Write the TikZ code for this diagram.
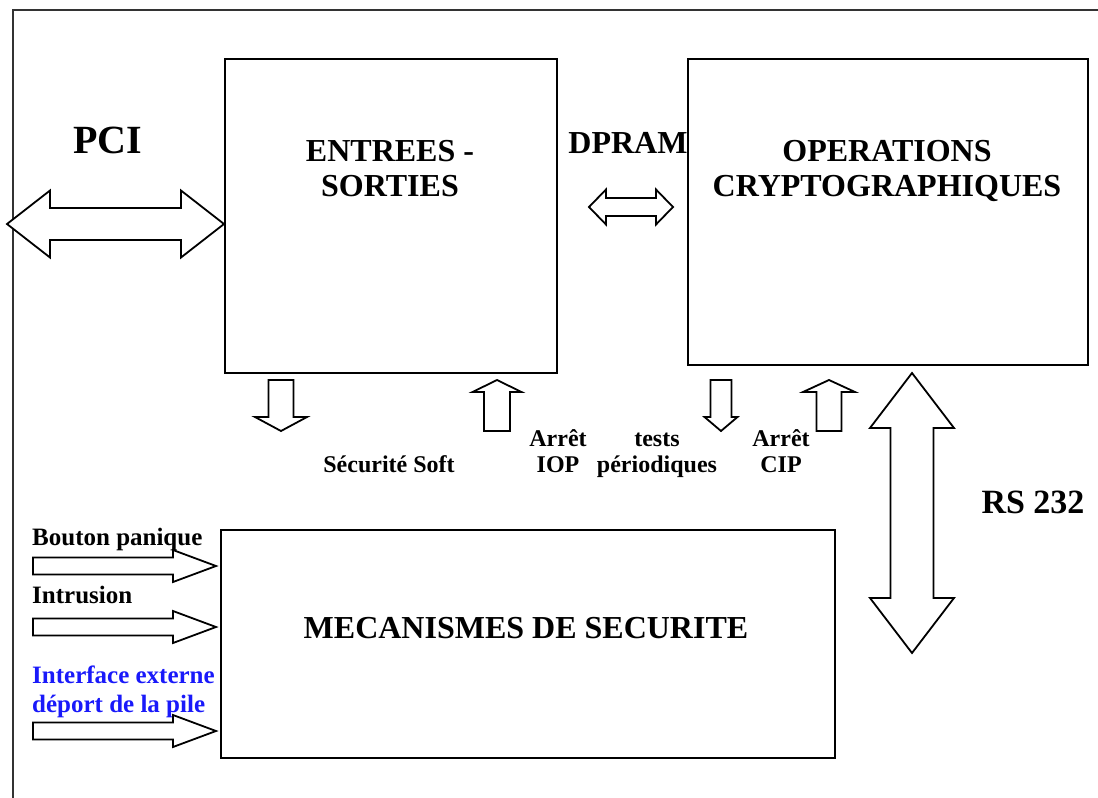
\documentclass[tikz,border=0pt]{standalone}
\usepackage{fontspec}
\setmainfont{Liberation Serif}
\usetikzlibrary{calc}
\definecolor{linkblue}{RGB}{25,25,250}

% single block arrow: tail, tip, half shaft width, half head width, head length
\newcommand{\blockarrow}[5]{%
  \coordinate (ba-base) at ($(#2)!#5!(#1)$);
  \draw[blockarr] ($(#1)!#3!90:(#2)$) -- ($(ba-base)!#3!90:(#2)$)
    -- ($(ba-base)!#4!90:(#2)$) -- (#2)
    -- ($(ba-base)!#4!-90:(#2)$) -- ($(ba-base)!#3!-90:(#2)$)
    -- ($(#1)!#3!-90:(#2)$) -- cycle;}

% double block arrow: end, end, half shaft width, half head width, head length
\newcommand{\doublearrow}[5]{%
  \coordinate (da-a) at ($(#1)!#5!(#2)$);
  \coordinate (da-b) at ($(#2)!#5!(#1)$);
  \draw[blockarr] (#1) -- ($(da-a)!#4!90:(#2)$) -- ($(da-a)!#3!90:(#2)$)
    -- ($(da-b)!#3!90:(#2)$) -- ($(da-b)!#4!90:(#2)$) -- (#2)
    -- ($(da-b)!#4!-90:(#2)$) -- ($(da-b)!#3!-90:(#2)$)
    -- ($(da-a)!#3!-90:(#2)$) -- ($(da-a)!#4!-90:(#2)$) -- cycle;}

\begin{document}
\begin{tikzpicture}[x=1pt,y=-1pt,
  box/.style={draw=black, line width=1.8pt, inner sep=0pt, anchor=north west},
  blockarr/.style={draw=black, fill=white, line width=1.8pt, line join=miter},
  frame/.style={draw=black!80, line width=1.8pt},
  big/.style={font=\fontsize{32}{35}\selectfont\bfseries, align=center, inner sep=0pt},
  small/.style={font=\fontsize{24}{26}\selectfont\bfseries, align=center, inner sep=0pt},
  side/.style={font=\fontsize{25}{29}\selectfont\bfseries, align=left, inner sep=0pt},
]
\useasboundingbox (0,0) rectangle (1098,798);

% outer frame
\draw[frame] (1098,10) -- (13,10) -- (13,798);

% blocks
\node[box, minimum width=332pt, minimum height=314pt] (io) at (224,58) {};
\node[box, minimum width=400pt, minimum height=306pt] (crypto) at (687,58) {};
\node[box, minimum width=614pt, minimum height=228pt] (secu) at (220,529) {};

% block titles
\node[big] (io-label) at (390,171.5) {\strut ENTREES -\\\strut SORTIES};
\node[big] (crypto-label) at (887,171.5) {\strut OPERATIONS\\\strut CRYPTOGRAPHIQUES};
\node[big, anchor=base] (secu-label) at (526,638) {MECANISMES DE SECURITE};

% bus labels
\node[font=\fontsize{40}{44}\selectfont\bfseries, anchor=base, inner sep=0pt] (pci) at (108,153) {PCI};
\node[big, anchor=base] (dpram) at (628,153) {DPRAM};
\node[font=\fontsize{34}{38}\selectfont\bfseries, anchor=base, inner sep=0pt] (rs) at (1033,513) {RS 232};

% signal labels
\node[small, anchor=base] (soft) at (389,472) {Sécurité Soft};
\node[small] (iop) at (558,453.8) {\strut Arrêt\\\strut IOP};
\node[small] (tests) at (657,453.8) {\strut tests\\\strut périodiques};
\node[small] (cip) at (781,453.8) {\strut Arrêt\\\strut CIP};

\node[side, anchor=base west] (panic) at (32,545) {Bouton panique};
\node[side, anchor=base west] (intrusion) at (32,603) {Intrusion};
\node[side, anchor=west, text=linkblue]
  (ext) at (32,691.7) {\strut Interface externe\\\strut déport de la pile};

% PCI bus
\coordinate (pci-l) at (7,224);
\coordinate (pci-r) at (io.west |- pci-l);
\doublearrow{pci-l}{pci-r}{16pt}{33.5pt}{43pt}

% DPRAM link
\coordinate (dp-l) at (589,207);
\coordinate (dp-r) at (673,207);
\doublearrow{dp-l}{dp-r}{9pt}{17.5pt}{17pt}

% RS 232 link
\coordinate (rs-t) at (912,373);
\coordinate (rs-b) at (912,653);
\doublearrow{rs-t}{rs-b}{21.5pt}{42pt}{55pt}

% signals between the blocks
\coordinate (s1-t) at (281,380);
\coordinate (s1-h) at (281,431);
\blockarrow{s1-t}{s1-h}{12.5pt}{26pt}{14pt}
\coordinate (s2-t) at (497,431);
\coordinate (s2-h) at (497,380);
\blockarrow{s2-t}{s2-h}{13pt}{24.5pt}{12pt}
\coordinate (s3-t) at (721,380);
\coordinate (s3-h) at (721,431);
\blockarrow{s3-t}{s3-h}{10.5pt}{16.5pt}{14pt}
\coordinate (s4-t) at (829,431);
\coordinate (s4-h) at (829,380);
\blockarrow{s4-t}{s4-h}{12.5pt}{26pt}{12pt}

% external inputs
\coordinate (in1-t) at (33,566);
\coordinate (in1-h) at (216,566);
\blockarrow{in1-t}{in1-h}{8.5pt}{16pt}{43pt}
\coordinate (in2-t) at (33,627);
\coordinate (in2-h) at (216,627);
\blockarrow{in2-t}{in2-h}{8.5pt}{16pt}{43pt}
\coordinate (in3-t) at (33,731);
\coordinate (in3-h) at (216,731);
\blockarrow{in3-t}{in3-h}{8.5pt}{16pt}{43pt}
\end{tikzpicture}
\end{document}
